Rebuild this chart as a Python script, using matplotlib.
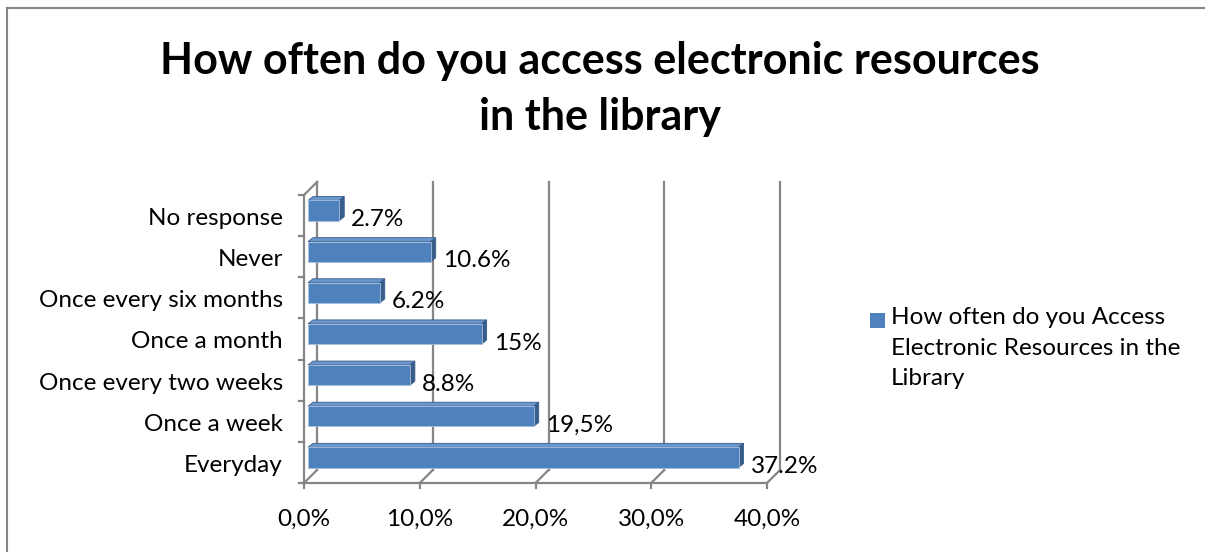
import numpy as np
import matplotlib.pyplot as plt
from matplotlib.patches import Polygon, Rectangle
from matplotlib.lines import Line2D

categories = ['Everyday', 'Once a week', 'Once every two weeks', 'Once a month',
              'Once every six months', 'Never', 'No response']
values = [37.2, 19.5, 8.8, 15.0, 6.2, 10.6, 2.7]
value_labels = ['37.2%', '19,5%', '8.8%', '15%', '6.2%', '10.6%', '2.7%']
x_ticks = [0, 10, 20, 30, 40]
x_tick_labels = ['0,0%', '10,0%', '20,0%', '30,0%', '40,0%']
series_name = 'How often do you Access\nElectronic Resources in the\nLibrary'
title = 'How often do you access electronic resources\nin the library'

FONT = 'Lato'
GRID = '#868686'
FRONT = '#4F81BD'
TOP = '#6A96CC'
SIDE = '#385D8A'
FS = 17.5

W, H = 1205, 552
fig = plt.figure(figsize=(W / 100, H / 100), dpi=100)
fig.patch.set_facecolor('white')
# chart border (only the left and top edges are inside the picture)
fig.add_artist(Line2D([7 / W, 7 / W], [0, 1 - 8 / H], transform=fig.transFigure, color=GRID, lw=1.5))
fig.add_artist(Line2D([7 / W, 1], [1 - 8 / H, 1 - 8 / H], transform=fig.transFigure, color=GRID, lw=1.5))

# plot area (front plane) in pixels
left_px, right_px, top_px, bot_px = 304, 767, 195, 483
ax = fig.add_axes([left_px / W, 1 - bot_px / H, (right_px - left_px) / W, (bot_px - top_px) / H])
ax.set_xlim(0, 40)
ax.set_ylim(-0.5, len(categories) - 0.5)
ax.axis('off')

sx = 40 / (right_px - left_px)          # data units per pixel
sy = len(categories) / (bot_px - top_px)

# depth offsets for the fake 3d look
wall_dx, wall_dy = 13 * sx, 13 * sy
bar_dx, bar_dy = 4 * sx, 5 * sy
depth_dx, depth_dy = 5 * sx, 4 * sy
ny = len(categories)

# back wall gridlines and floor diagonals
for t in x_ticks:
    ax.plot([t + wall_dx, t + wall_dx], [-0.5 + wall_dy, ny - 0.5 + wall_dy],
            color=GRID, lw=1.6, clip_on=False, zorder=1)
    ax.plot([t, t + wall_dx], [-0.5, -0.5 + wall_dy], color=GRID, lw=1.6, clip_on=False, zorder=1)
# left wall top diagonal
ax.plot([0, wall_dx], [ny - 0.5, ny - 0.5 + wall_dy], color=GRID, lw=1.6, clip_on=False, zorder=1)

# front axes lines
ax.plot([0, 0], [-0.5, ny - 0.5], color=GRID, lw=1.6, clip_on=False, zorder=2)
ax.plot([0, 40], [-0.5, -0.5], color=GRID, lw=1.6, clip_on=False, zorder=2)
for k in range(ny + 1):
    ax.plot([-5 * sx, 0], [k - 0.5, k - 0.5], color=GRID, lw=1.6, clip_on=False, zorder=2)
for t, lab in zip(x_ticks, x_tick_labels):
    ax.plot([t, t], [-0.5, -0.5 - 5 * sy], color=GRID, lw=1.6, clip_on=False, zorder=2)
    ax.text(t, -0.5 - 36 * sy, lab, ha='center', va='center',
            fontsize=FS, family=FONT, clip_on=False)

for i, cat in enumerate(categories):
    ax.text(-21 * sx, i - 3 * sy, cat, ha='right', va='center', fontsize=FS, family=FONT)

# bars
bh = 0.49
for i, v in enumerate(values):
    x0, y0 = bar_dx, i - bh / 2 + bar_dy
    x1, y1 = v + bar_dx, i + bh / 2 + bar_dy
    ax.add_patch(Polygon([(x0, y1), (x1, y1), (x1 + depth_dx, y1 + depth_dy), (x0 + depth_dx, y1 + depth_dy)],
                         closed=True, facecolor=TOP, edgecolor=SIDE, lw=0.6, clip_on=False, zorder=3))
    ax.add_patch(Polygon([(x1, y0), (x1 + depth_dx, y0 + depth_dy), (x1 + depth_dx, y1 + depth_dy), (x1, y1)],
                         closed=True, facecolor=SIDE, edgecolor=SIDE, lw=0.6, clip_on=False, zorder=3))
    ax.add_patch(Rectangle((x0, y0), v, bh, facecolor=FRONT, edgecolor='#A7BFDE', lw=0.6,
                           clip_on=False, zorder=4))
    ax.text(v + 16 * sx, i - 4 * sy, value_labels[i], ha='left', va='center',
            fontsize=FS, family=FONT, clip_on=False, zorder=5)

# title
fig.text(0.498, 1 - 89 / H, title, ha='center', va='center', fontsize=31, fontweight='bold',
         family=FONT, linespacing=1.5)

# legend
fig.add_artist(Rectangle((870 / W, 1 - 328 / H), 15 / W, 15 / H, transform=fig.transFigure,
                         facecolor=FRONT, edgecolor='none'))
fig.text(891 / W, 1 - 307 / H, series_name, ha='left', va='top', fontsize=FS, family=FONT,
         linespacing=1.57)

fig.savefig('out.png', dpi=100)
